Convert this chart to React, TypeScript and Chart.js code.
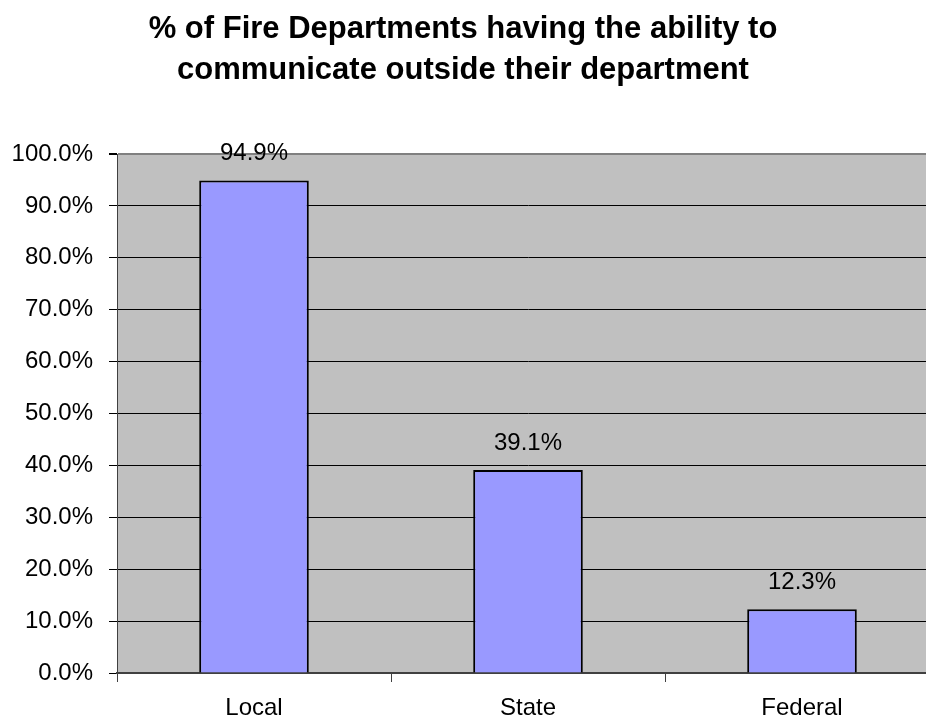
import React, { useEffect, useRef } from "react";
import { Chart, registerables } from "chart.js";

Chart.register(...registerables);

const titleLines = ["% of Fire Departments having the ability to", "communicate outside their department"];
const categories = ["Local", "State", "Federal"];
const values = [94.9, 39.1, 12.3];
const yMin = 0;
const yMax = 100;
const yStep = 10;

const FONT = "'Liberation Sans', Arial, sans-serif";

export default function App() {
  const ref = useRef<HTMLCanvasElement | null>(null);

  useEffect(() => {
    if (!ref.current) return;
    const bgPlugin = {
      id: "plotBg",
      beforeDraw(chart: any) {
        const { ctx, chartArea } = chart;
        ctx.save();
        ctx.fillStyle = "#C0C0C0";
        ctx.fillRect(chartArea.left, chartArea.top, chartArea.right - chartArea.left, chartArea.bottom - chartArea.top);
        ctx.restore();
      },
    };
    const titlePlugin = {
      id: "customTitle",
      afterDraw(chart: any) {
        const { ctx } = chart;
        ctx.save();
        ctx.fillStyle = "#000";
        ctx.font = `bold 31px ${FONT}`;
        ctx.textAlign = "center";
        ctx.textBaseline = "alphabetic";
        ctx.fillText(titleLines[0], 463, 38);
        ctx.fillText(titleLines[1], 463, 79);
        ctx.restore();
      },
    };
    const labelPlugin = {
      id: "valueLabels",
      afterDatasetsDraw(chart: any) {
        const { ctx } = chart;
        const meta = chart.getDatasetMeta(0);
        ctx.save();
        ctx.fillStyle = "#000";
        ctx.font = `24px ${FONT}`;
        ctx.textAlign = "center";
        ctx.textBaseline = "alphabetic";
        meta.data.forEach((bar: any, i: number) => {
          ctx.fillText(values[i].toFixed(1) + "%", bar.x, bar.y - 20);
        });
        ctx.restore();
      },
    };
    const chart = new Chart(ref.current, {
      type: "bar",
      data: {
        labels: categories,
        datasets: [
          {
            data: values,
            backgroundColor: "#9999FF",
            borderColor: "#000000",
            borderWidth: 2,
            barPercentage: 0.4,
            categoryPercentage: 1.0,
          },
        ],
      },
      options: {
        animation: false,
        responsive: false,
        devicePixelRatio: 1,
        layout: { padding: { top: 154, left: 0, right: 21, bottom: 0 } },
        plugins: {
          legend: { display: false },
          title: { display: false },
          tooltip: { enabled: false },
        },
        scales: {
          x: {
            offset: true,
            grid: {
              display: true,
              drawOnChartArea: false,
              drawTicks: true,
              tickLength: 9,
              color: "#404040",
              offset: true,
            },
            border: { display: true, color: "#404040", width: 2 },
            ticks: {
              color: "#000",
              font: { family: FONT, size: 24 },
              padding: 12,
            },
            afterFit(scale: any) {
              scale.height = 48;
            },
          },
          y: {
            min: yMin,
            max: yMax,
            grid: {
              color: (c: any) => (c.tick && c.tick.value === yMax ? "#808080" : "#000000"),
              lineWidth: (c: any) => (c.tick && c.tick.value === yMax ? 2 : 1),
              tickColor: "#000000",
              tickLength: 8,
              drawTicks: true,
            },
            border: { display: true, color: "#404040", width: 1 },
            ticks: {
              stepSize: yStep,
              color: "#000",
              font: { family: FONT, size: 24 },
              padding: 16,
              callback: (v: any) => Number(v).toFixed(1) + "%",
            },
            afterFit(scale: any) {
              scale.width = 117;
            },
          },
        },
      },
      plugins: [bgPlugin, titlePlugin, labelPlugin],
    });
    return () => chart.destroy();
  }, []);

  return (
    <div style={{ position: "fixed", left: 0, top: 0, width: 926, height: 721, overflow: "hidden", background: "#fff" }}>
      <div style={{ position: "absolute", left: 0, top: 0, width: 960, height: 721 }}>
        <canvas ref={ref} width={960} height={721} style={{ display: "block", width: 960, height: 721 }} />
      </div>
    </div>
  );
}
